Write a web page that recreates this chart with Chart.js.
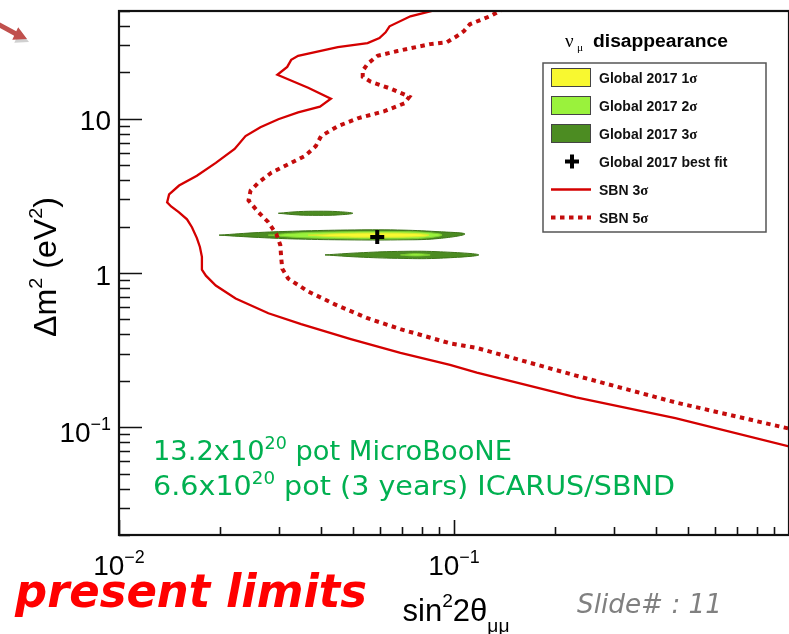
<!DOCTYPE html>
<html>
<head>
<meta charset="utf-8">
<script src="https://cdn.jsdelivr.net/npm/chart.js@4.4.1/dist/chart.umd.min.js"></script>
<style>
  html, body { margin: 0; padding: 0; background: #fff; overflow: hidden; }
  #wrap { position: relative; width: 800px; height: 634px; }
</style>
</head>
<body>
<div id="wrap"><canvas id="c" width="800" height="634"></canvas></div>
<script>
// ---- axis ranges and tick labels --------------------------------------
const xRange = [0.01, 1];
const yRange = [0.02, 50];
const xTickValues = [0.01, 0.1];
const xTickText = [['10', '\u22122'], ['10', '\u22121']];
const yTickValues = [0.1, 1, 10];
const yTickText = [['10', '\u22121'], ['1', ''], ['10', '']];

// ---- SBN sensitivity curves: [sin^2 2theta, dm^2 (eV^2)] ---------------
const sbn3Sigma = [
  [0.0921, 52], [0.0741, 46.2], [0.0642, 39.8], [0.0625, 36.4], [0.0599, 33.4],
  [0.0552, 31.0], [0.0450, 29.2], [0.03425, 25.6], [0.03266, 24.1], [0.03178, 21.7],
  [0.0297, 19.3], [0.0367, 15.9], [0.0429, 13.5], [0.0398, 12.0], [0.03425, 11.0],
  [0.0299, 9.93], [0.02643, 8.82], [0.02386, 7.72], [0.02214, 6.37], [0.01945, 5.18],
  [0.01708, 4.27], [0.01511, 3.69], [0.01411, 3.23], [0.01392, 2.87], [0.01431, 2.70],
  [0.01511, 2.475], [0.01596, 2.23], [0.01651, 1.98], [0.01708, 1.685], [0.01744, 1.475],
  [0.01768, 1.272], [0.01768, 1.05], [0.01817, 0.961], [0.01945, 0.829], [0.02229, 0.684],
  [0.02792, 0.548], [0.03497, 0.466], [0.0492, 0.373], [0.0692, 0.303], [0.0973, 0.254],
  [0.117, 0.2258], [0.2314, 0.156], [0.4578, 0.1144], [1.0, 0.0751]
];
const sbn5Sigma = [
  [0.1416, 52], [0.1279, 46.2], [0.1115, 41.0], [0.1070, 37.0], [0.1021, 34.4],
  [0.0953, 31.4], [0.0849, 30.5], [0.0678, 27.5], [0.0591, 25.6], [0.0552, 22.7],
  [0.0534, 20.5], [0.0534, 18.7], [0.0564, 17.4], [0.0646, 15.7], [0.0736, 13.9],
  [0.0711, 12.6], [0.0620, 11.2], [0.0516, 10.07], [0.0450, 8.95], [0.0401, 7.72],
  [0.0387, 6.66], [0.0359, 5.74], [0.03266, 5.18], [0.0285, 4.47], [0.02607, 3.855],
  [0.0247, 3.42], [0.02436, 2.955], [0.02607, 2.475], [0.02792, 2.135], [0.02949, 1.787],
  [0.0303, 1.519], [0.03051, 1.235], [0.03072, 1.066], [0.0320, 0.919], [0.0367, 0.759],
  [0.0441, 0.626], [0.0552, 0.509], [0.0692, 0.4326], [0.0973, 0.35], [0.117, 0.3266],
  [0.2314, 0.216], [0.4578, 0.1449], [1.0, 0.0979]
];

// ---- Global 2017 allowed regions (closed contours) ---------------------
const global3SigmaMain = [
  [0.0199, 1.76], [0.0261, 1.83], [0.0343, 1.87], [0.0482, 1.90], [0.0678, 1.90],
  [0.0890, 1.855], [0.1078, 1.79], [0.0890, 1.67], [0.0678, 1.64], [0.0482, 1.64],
  [0.0343, 1.66], [0.0261, 1.70], [0.0199, 1.76]
];
const global3SigmaUpper = [
  [0.0299, 2.44], [0.0343, 2.50], [0.0393, 2.515], [0.0450, 2.50], [0.0499, 2.44],
  [0.0450, 2.38], [0.0393, 2.365], [0.0343, 2.38], [0.0299, 2.44]
];
const global3SigmaLower = [
  [0.0412, 1.31], [0.0516, 1.35], [0.0678, 1.38], [0.0890, 1.375], [0.1186, 1.31],
  [0.0890, 1.245], [0.0678, 1.245], [0.0516, 1.27], [0.0412, 1.31]
];
const global2SigmaMain = [
  [0.0279, 1.76], [0.0343, 1.82], [0.0482, 1.85], [0.0678, 1.855], [0.0832, 1.83],
  [0.0921, 1.765], [0.0832, 1.69], [0.0678, 1.665], [0.0482, 1.67], [0.0343, 1.70],
  [0.0279, 1.76]
];
const global2SigmaLower = [
  [0.0692, 1.31], [0.0766, 1.335], [0.0849, 1.31], [0.0766, 1.29], [0.0692, 1.31]
];
const global1SigmaMain = [
  [0.0367, 1.76], [0.0450, 1.80], [0.0591, 1.815], [0.0777, 1.80], [0.0843, 1.76],
  [0.0777, 1.72], [0.0591, 1.705], [0.0450, 1.715], [0.0367, 1.76]
];
const globalBestFit = [[0.059, 1.71]];

const legendTitle = ['\u03bd', '\u03bc', 'disappearance'];
const legendOrder = ['Global 2017 1\u03c3', 'Global 2017 2\u03c3', 'Global 2017 3\u03c3',
  'Global 2017 best fit', 'SBN 3\u03c3', 'SBN 5\u03c3'];
const noteLines = [
  ['13.2x10', '20', ' pot MicroBooNE'],
  ['6.6x10', '20', ' pot (3 years) ICARUS/SBND']
];

// ---- styles -------------------------------------------------------------
const C3 = '#4c8c22', C3b = '#3d7418';
const C2 = '#9af23c', C2b = '#7ccc30';
const C1 = '#f8f830', C1b = '#d8e830';
const RED_SOLID = '#d40000', RED_DOT = '#c40c0c';
const SANS = '"Liberation Sans", Arial, Helvetica, sans-serif';
const SERIF = '"Liberation Serif", "DejaVu Serif", serif';
const HAND = '"DejaVu Sans", sans-serif';

const pts = arr => arr.map(p => ({ x: p[0], y: p[1] }));

function region(label, arr, fillColor, lineColor) {
  return {
    label, data: pts(arr), showLine: true, fill: 'shape',
    backgroundColor: fillColor, borderColor: lineColor, borderWidth: 1,
    pointRadius: 0, tension: 0.4
  };
}

// draws text made of runs [text, sizeFactor, raiseEm, family], optionally stretched to a width
function drawRuns(ctx, runs, x, y, o) {
  const pre = (o.style || '') + ' ' + (o.weight || '') + ' ';
  const fonts = runs.map(r => pre + (o.size * r[1]).toFixed(2) + 'px ' + (r[3] || o.family));
  let w = 0;
  const widths = runs.map((r, i) => { ctx.font = fonts[i]; const m = ctx.measureText(r[0]).width; w += m; return m; });
  const sx = o.width ? o.width / w : 1;
  let start = x;
  if (o.align === 'center') start = x - w * sx / 2;
  else if (o.align === 'right') start = x - w * sx;
  ctx.save();
  ctx.translate(start, y);
  ctx.scale(sx, 1);
  ctx.fillStyle = o.color || '#000';
  ctx.textAlign = 'left';
  ctx.textBaseline = 'alphabetic';
  let cx = 0;
  runs.forEach((r, i) => { ctx.font = fonts[i]; ctx.fillText(r[0], cx, -r[2] * o.size); cx += widths[i]; });
  ctx.restore();
}

const decorations = {
  id: 'decorations',
  afterDraw(chart) {
    const ctx = chart.ctx, xs = chart.scales.x, ys = chart.scales.y, a = chart.chartArea;
    ctx.save();

    // minor / major ticks drawn inward
    ctx.strokeStyle = '#111';
    ctx.lineWidth = 1.6;
    ctx.beginPath();
    for (let d = 0.01; d <= 10.001; d *= 10) {
      for (let m = 1; m <= 9; m++) {
        const v = d * m;
        if (v < yRange[0] - 1e-9 || v > yRange[1] + 1e-9) continue;
        const p = Math.round(ys.getPixelForValue(v)) + 0.5;
        const len = m === 1 ? 23 : 11;
        ctx.moveTo(a.left, p); ctx.lineTo(a.left + len, p);
      }
    }
    for (let d = 0.01; d <= 0.1001; d *= 10) {
      for (let m = 1; m <= 9; m++) {
        const v = d * m;
        const p = Math.round(xs.getPixelForValue(v)) + 0.5;
        const len = m === 1 ? 15 : 8;
        ctx.moveTo(p, a.bottom); ctx.lineTo(p, a.bottom - len);
      }
    }
    ctx.stroke();

    // frame
    ctx.lineWidth = 2.2;
    ctx.strokeRect(a.left, a.top, a.right - a.left, a.bottom - a.top);

    // y tick labels
    yTickValues.forEach((v, i) => {
      const p = ys.getPixelForValue(v);
      const t = yTickText[i];
      const runs = t[1] ? [[t[0], 1, 0], [t[1], 0.64, 0.44]] : [[t[0], 1, 0]];
      drawRuns(ctx, runs, 111, p + (t[1] ? 15 : 11.5), { size: 28, family: SANS, align: 'right' });
    });
    // x tick labels
    xTickValues.forEach((v, i) => {
      const p = xs.getPixelForValue(v);
      const t = xTickText[i];
      const runs = t[1] ? [[t[0], 1, 0], [t[1], 0.64, 0.44]] : [[t[0], 1, 0]];
      drawRuns(ctx, runs, p, 575, { size: 28, family: SANS, align: 'center' });
    });

    // axis titles
    drawRuns(ctx, [['sin', 1, 0], ['2', 0.62, 0.45], ['2\u03b8', 1, 0], ['\u03bc\u03bc', 0.62, -0.35]],
      456, 621, { size: 31, family: SANS, align: 'center' });
    ctx.save();
    ctx.translate(56, 267);
    ctx.rotate(-Math.PI / 2);
    drawRuns(ctx, [['\u0394m', 1, 0], ['2', 0.62, 0.45], [' (eV', 1, 0], ['2', 0.62, 0.45], [')', 1, 0]],
      0, 0, { size: 31, family: SANS, align: 'center', width: 140 });
    ctx.restore();

    // legend
    drawRuns(ctx, [[legendTitle[0], 1, 0, SERIF]], 565, 47, { size: 19 });
    drawRuns(ctx, [[legendTitle[1], 0.6, -0.2, SERIF]], 577, 47, { size: 19 });
    drawRuns(ctx, [[legendTitle[2], 1, 0]], 593, 47, { size: 18, family: SANS, weight: 'bold', width: 135 });
    const L = { x: 543, y: 63, w: 223, h: 169 };
    ctx.fillStyle = '#fff';
    ctx.fillRect(L.x, L.y, L.w, L.h);
    ctx.strokeStyle = '#555';
    ctx.lineWidth = 1.5;
    ctx.strokeRect(L.x, L.y, L.w, L.h);
    const ds = chart.data.datasets;
    legendOrder.forEach((lab, i) => {
      const d = ds.find(s => s.label === lab);
      const cy = 77.5 + i * 28;
      if (d.fill === 'shape') {
        ctx.fillStyle = d.backgroundColor;
        ctx.fillRect(551, cy - 9.5, 40, 19);
        ctx.strokeStyle = '#444';
        ctx.lineWidth = 1;
        ctx.strokeRect(551.5, cy - 9, 39, 18);
      } else if (!d.showLine) {
        ctx.strokeStyle = d.borderColor;
        ctx.lineWidth = 4;
        ctx.beginPath();
        ctx.moveTo(565, cy); ctx.lineTo(579, cy);
        ctx.moveTo(572, cy - 7); ctx.lineTo(572, cy + 7);
        ctx.stroke();
      } else {
        ctx.strokeStyle = d.borderColor;
        ctx.lineWidth = d.borderWidth;
        ctx.setLineDash(d.borderDash || []);
        ctx.beginPath();
        ctx.moveTo(551, cy); ctx.lineTo(591, cy);
        ctx.stroke();
        ctx.setLineDash([]);
      }
      const k = lab.indexOf('\u03c3');
      const runs = k >= 0 ? [[lab.slice(0, k), 1, 0], [lab.slice(k), 1.05, 0, SERIF]] : [[lab, 1, 0]];
      drawRuns(ctx, runs, 599, cy + 5, { size: 14, family: SANS, weight: 'bold', color: '#111' });
    });

    // exposure notes
    noteLines.forEach((ln, i) => {
      drawRuns(ctx, [[ln[0], 1, 0], [ln[1], 0.64, 0.42], [ln[2], 1, 0]], 153, 460 + i * 35,
        { size: 27, family: HAND, color: '#00b050', width: i === 0 ? 359 : 522 });
    });

    ctx.restore();
  }
};

// page annotations outside the plotting frame
const pageNotes = {
  id: 'pageNotes',
  afterDraw(chart) {
    const ctx = chart.ctx;
    ctx.save();
    drawRuns(ctx, [['present limits', 1, 0]], 15, 607,
      { size: 47, family: HAND, weight: 'bold', style: 'oblique', color: '#ff0000', width: 352 });
    drawRuns(ctx, [['Slide# : 11', 1, 0]], 577, 613,
      { size: 26, family: HAND, style: 'oblique', color: '#808080', width: 145 });
    // small pointer arrow in the corner
    const tip = [27, 39], ang = 25 * Math.PI / 180;
    const dx = Math.cos(ang), dy = Math.sin(ang), px = -dy, py = dx;
    const bx = tip[0] - 13 * dx, by = tip[1] - 13 * dy;
    ctx.fillStyle = 'rgba(120,120,120,0.35)';
    ctx.beginPath();
    ctx.moveTo(tip[0] + 2, tip[1] + 3);
    ctx.lineTo(bx + 7 * px + 2, by + 7 * py + 3);
    ctx.lineTo(bx - 7 * px + 2, by - 7 * py + 3);
    ctx.closePath();
    ctx.fill();
    ctx.fillStyle = '#c0504d';
    ctx.beginPath();
    ctx.moveTo(tip[0], tip[1]);
    ctx.lineTo(bx + 7 * px, by + 7 * py);
    ctx.lineTo(bx + 2.5 * px, by + 2.5 * py);
    ctx.lineTo(-6 + 2.5 * px, 22 + 2.5 * py);
    ctx.lineTo(-6 - 2.5 * px, 22 - 2.5 * py);
    ctx.lineTo(bx - 2.5 * px, by - 2.5 * py);
    ctx.lineTo(bx - 7 * px, by - 7 * py);
    ctx.closePath();
    ctx.fill();
    ctx.restore();
  }
};

// Chart.js paints datasets from the last one to the first, so the
// topmost marks (best fit, limit curves) come first in this list.
new Chart(document.getElementById('c'), {
  type: 'scatter',
  data: {
    datasets: [
      {
        label: 'Global 2017 best fit', data: pts(globalBestFit), showLine: false,
        pointStyle: 'cross', pointRadius: 7, borderWidth: 4, borderColor: '#000', backgroundColor: '#000'
      },
      {
        label: 'SBN 5\u03c3', data: pts(sbn5Sigma), showLine: true, fill: false,
        borderColor: RED_DOT, borderWidth: 4, borderDash: [4.5, 4.5], borderCapStyle: 'butt',
        pointRadius: 0, tension: 0
      },
      {
        label: 'SBN 3\u03c3', data: pts(sbn3Sigma), showLine: true, fill: false,
        borderColor: RED_SOLID, borderWidth: 2.3, pointRadius: 0, tension: 0
      },
      region('Global 2017 1\u03c3', global1SigmaMain, C1, C1b),
      region('Global 2017 2\u03c3', global2SigmaMain, C2, C2b),
      region('Global 2017 2\u03c3 (lower)', global2SigmaLower, C2, C2b),
      region('Global 2017 3\u03c3', global3SigmaMain, C3, C3b),
      region('Global 2017 3\u03c3 (upper)', global3SigmaUpper, C3, C3b),
      region('Global 2017 3\u03c3 (lower)', global3SigmaLower, C3, C3b)
    ]
  },
  options: {
    responsive: false,
    animation: false,
    devicePixelRatio: 1,
    layout: { padding: { left: 119, top: 6, right: 6, bottom: 99 } },
    plugins: { legend: { display: false }, tooltip: { enabled: false } },
    scales: {
      x: { type: 'logarithmic', min: xRange[0], max: xRange[1], display: false },
      y: { type: 'logarithmic', min: yRange[0], max: yRange[1], display: false }
    }
  },
  plugins: [decorations, pageNotes]
});
</script>
</body>
</html>
